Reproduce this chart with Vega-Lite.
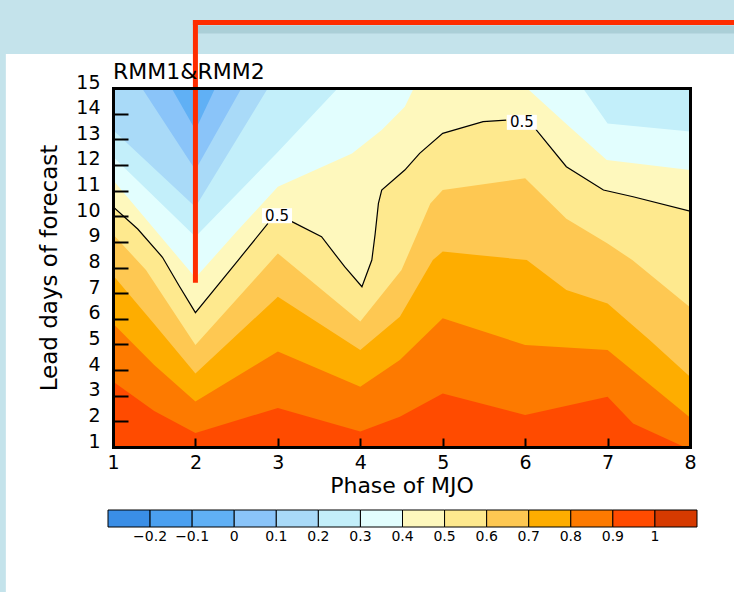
{
  "$schema": "https://vega.github.io/schema/vega-lite/v6.json",
  "width": 577,
  "height": 359,
  "autosize": {"type": "none"},
  "padding": {"left": 113, "top": 88, "right": 44, "bottom": 145},
  "background": "#C4E3EB",
  "title": {"text": "RMM1&RMM2", "anchor": "start", "frame": "group", "fontSize": 22, "fontWeight": "normal", "color": "black", "offset": 3, "dy": 68, "font": "DejaVu Sans"},
  "config": {
    "font": "DejaVu Sans",
    "view": {"stroke": null},
    "legend": {"labelFontSize": 14, "labelFont": "DejaVu Sans", "labelColor": "black"}
  },
  "resolve": {"axis": {"x": "independent", "y": "independent"}},
  "datasets": {
    "bands": [
      {"band": 0.95, "phase": 1, "lead": 1}, {"band": 0.95, "phase": 8, "lead": 1},
      {"band": 0.85, "phase": 1, "lead": 3.55}, {"band": 0.85, "phase": 1.5, "lead": 2.4}, {"band": 0.85, "phase": 2, "lead": 1.55}, {"band": 0.85, "phase": 3, "lead": 2.52}, {"band": 0.85, "phase": 4, "lead": 1.6}, {"band": 0.85, "phase": 4.48, "lead": 2.18}, {"band": 0.85, "phase": 5, "lead": 3.09}, {"band": 0.85, "phase": 6, "lead": 2.25}, {"band": 0.85, "phase": 7, "lead": 2.96}, {"band": 0.85, "phase": 7.31, "lead": 1.92}, {"band": 0.85, "phase": 8, "lead": 0.9},
      {"band": 0.75, "phase": 1, "lead": 5.82}, {"band": 0.75, "phase": 1.5, "lead": 4.2}, {"band": 0.75, "phase": 2, "lead": 2.77}, {"band": 0.75, "phase": 3, "lead": 4.72}, {"band": 0.75, "phase": 4, "lead": 3.35}, {"band": 0.75, "phase": 4.48, "lead": 4.39}, {"band": 0.75, "phase": 5, "lead": 6.02}, {"band": 0.75, "phase": 6, "lead": 4.98}, {"band": 0.75, "phase": 7, "lead": 4.78}, {"band": 0.75, "phase": 8, "lead": 2.15},
      {"band": 0.65, "phase": 1, "lead": 7.7}, {"band": 0.65, "phase": 1.5, "lead": 5.8}, {"band": 0.65, "phase": 2, "lead": 3.87}, {"band": 0.65, "phase": 3, "lead": 6.86}, {"band": 0.65, "phase": 4, "lead": 4.78}, {"band": 0.65, "phase": 4.48, "lead": 6.08}, {"band": 0.65, "phase": 4.88, "lead": 8.29}, {"band": 0.65, "phase": 5, "lead": 8.62}, {"band": 0.65, "phase": 6.02, "lead": 8.29}, {"band": 0.65, "phase": 6.5, "lead": 7.12}, {"band": 0.65, "phase": 7, "lead": 6.6}, {"band": 0.65, "phase": 7.51, "lead": 5.17}, {"band": 0.65, "phase": 8, "lead": 3.74},
      {"band": 0.55, "phase": 1, "lead": 9.3}, {"band": 0.55, "phase": 1.4, "lead": 7.9}, {"band": 0.55, "phase": 2, "lead": 4.98}, {"band": 0.55, "phase": 3, "lead": 8.55}, {"band": 0.55, "phase": 4, "lead": 5.89}, {"band": 0.55, "phase": 4.5, "lead": 7.9}, {"band": 0.55, "phase": 4.85, "lead": 10.5}, {"band": 0.55, "phase": 5, "lead": 11.02}, {"band": 0.55, "phase": 6, "lead": 11.48}, {"band": 0.55, "phase": 6.5, "lead": 9.9}, {"band": 0.55, "phase": 7, "lead": 8.94}, {"band": 0.55, "phase": 7.3, "lead": 8.29}, {"band": 0.55, "phase": 8, "lead": 6.45},
      {"band": 0.45, "phase": 1, "lead": 10.37}, {"band": 0.45, "phase": 1.3, "lead": 9.5}, {"band": 0.45, "phase": 1.6, "lead": 8.4}, {"band": 0.45, "phase": 1.8, "lead": 7.3}, {"band": 0.45, "phase": 2, "lead": 6.24}, {"band": 0.45, "phase": 2.52, "lead": 8.29}, {"band": 0.45, "phase": 2.88, "lead": 9.72}, {"band": 0.45, "phase": 3, "lead": 9.85}, {"band": 0.45, "phase": 3.17, "lead": 9.79}, {"band": 0.45, "phase": 3.53, "lead": 9.2}, {"band": 0.45, "phase": 3.81, "lead": 8.03}, {"band": 0.45, "phase": 4.02, "lead": 7.25}, {"band": 0.45, "phase": 4.14, "lead": 8.29}, {"band": 0.45, "phase": 4.18, "lead": 9.3}, {"band": 0.45, "phase": 4.22, "lead": 10.5}, {"band": 0.45, "phase": 4.26, "lead": 11.02}, {"band": 0.45, "phase": 4.54, "lead": 11.8}, {"band": 0.45, "phase": 4.72, "lead": 12.45}, {"band": 0.45, "phase": 5, "lead": 13.23}, {"band": 0.45, "phase": 5.49, "lead": 13.69}, {"band": 0.45, "phase": 5.78, "lead": 13.75}, {"band": 0.45, "phase": 5.95, "lead": 13.7}, {"band": 0.45, "phase": 6.1, "lead": 13.43}, {"band": 0.45, "phase": 6.5, "lead": 11.93}, {"band": 0.45, "phase": 6.95, "lead": 11.02}, {"band": 0.45, "phase": 7.31, "lead": 10.76}, {"band": 0.45, "phase": 8, "lead": 10.2},
      {"band": 0.35, "phase": 1, "lead": 11.41}, {"band": 0.35, "phase": 2, "lead": 7.6}, {"band": 0.35, "phase": 2.5, "lead": 9.4}, {"band": 0.35, "phase": 3, "lead": 11.15}, {"band": 0.35, "phase": 3.9, "lead": 12.45}, {"band": 0.35, "phase": 4.26, "lead": 13.36}, {"band": 0.35, "phase": 4.54, "lead": 14.27}, {"band": 0.35, "phase": 4.65, "lead": 15}, {"band": 0.35, "phase": 6.02, "lead": 15}, {"band": 0.35, "phase": 6.5, "lead": 13.6}, {"band": 0.35, "phase": 6.99, "lead": 12.19}, {"band": 0.35, "phase": 8, "lead": 11.8},
      {"band": 0.25, "phase": 1, "lead": 12.32}, {"band": 0.25, "phase": 2, "lead": 9.2}, {"band": 0.25, "phase": 3, "lead": 12.5}, {"band": 0.25, "phase": 3.73, "lead": 15}, {"band": 0.25, "phase": 6.7, "lead": 15}, {"band": 0.25, "phase": 7, "lead": 13.62}, {"band": 0.25, "phase": 8, "lead": 13.3},
      {"band": 0.15, "phase": 1, "lead": 13.36}, {"band": 0.15, "phase": 2, "lead": 10.36}, {"band": 0.15, "phase": 2.88, "lead": 15}, {"band": 0.15, "phase": 8, "lead": 15},
      {"band": 0.05, "phase": 1, "lead": 15}, {"band": 0.05, "phase": 1.35, "lead": 15}, {"band": 0.05, "phase": 2, "lead": 11.8}, {"band": 0.05, "phase": 2.56, "lead": 15}, {"band": 0.05, "phase": 8, "lead": 15},
      {"band": -0.05, "phase": 1, "lead": 15}, {"band": -0.05, "phase": 1.71, "lead": 15}, {"band": -0.05, "phase": 2, "lead": 13.36}, {"band": -0.05, "phase": 2.24, "lead": 15}, {"band": -0.05, "phase": 8, "lead": 15}
    ],
    "contour": [
      {"seg": "a", "phase": 1, "lead": 10.37}, {"seg": "a", "phase": 1.3, "lead": 9.5}, {"seg": "a", "phase": 1.6, "lead": 8.4}, {"seg": "a", "phase": 1.8, "lead": 7.3}, {"seg": "a", "phase": 2, "lead": 6.24}, {"seg": "a", "phase": 2.52, "lead": 8.29}, {"seg": "a", "phase": 2.88, "lead": 9.72},
      {"seg": "b", "phase": 3.17, "lead": 9.79}, {"seg": "b", "phase": 3.53, "lead": 9.2}, {"seg": "b", "phase": 3.81, "lead": 8.03}, {"seg": "b", "phase": 4.02, "lead": 7.25}, {"seg": "b", "phase": 4.14, "lead": 8.29}, {"seg": "b", "phase": 4.18, "lead": 9.3}, {"seg": "b", "phase": 4.22, "lead": 10.5}, {"seg": "b", "phase": 4.26, "lead": 11.02}, {"seg": "b", "phase": 4.54, "lead": 11.8}, {"seg": "b", "phase": 4.72, "lead": 12.45}, {"seg": "b", "phase": 5, "lead": 13.23}, {"seg": "b", "phase": 5.49, "lead": 13.69}, {"seg": "b", "phase": 5.77, "lead": 13.75},
      {"seg": "c", "phase": 6.12, "lead": 13.43}, {"seg": "c", "phase": 6.5, "lead": 11.93}, {"seg": "c", "phase": 6.95, "lead": 11.02}, {"seg": "c", "phase": 7.31, "lead": 10.76}, {"seg": "c", "phase": 8, "lead": 10.2}
    ],
    "labels": [
      {"phase": 2.99, "lead": 10.02, "text": "0.5"},
      {"phase": 5.96, "lead": 13.66, "text": "0.5"}
    ]
  },
  "layer": [
    {
      "data": {"values": [{}]},
      "mark": {"type": "rect", "fill": "white", "clip": false},
      "encoding": {
        "x": {"datum": -0.3, "type": "quantitative", "scale": {"domain": [1, 8], "nice": false, "zero": false}, "axis": null},
        "x2": {"datum": 9.6},
        "y": {"datum": 16.33, "type": "quantitative", "scale": {"domain": [1, 15], "nice": false, "zero": false}, "axis": null},
        "y2": {"datum": -9}
      }
    },
    {
      "data": {"name": "bands"},
      "mark": {"type": "area", "clip": true, "opacity": 1},
      "encoding": {
        "x": {"field": "phase", "type": "quantitative", "scale": {"domain": [1, 8], "nice": false, "zero": false},
          "axis": {"orient": "bottom", "values": [1, 2, 3, 4, 5, 6, 7, 8], "format": "d", "title": "Phase of MJO", "grid": false, "domain": true, "domainColor": "black", "domainWidth": 3, "domainCap": "square", "tickSize": -9, "tickWidth": 2, "tickColor": "black", "labelPadding": 15, "labelFontSize": 19, "labelFlush": false, "labelOverlap": false, "labelColor": "black", "labelFont": "DejaVu Sans", "titleFont": "DejaVu Sans", "titleFontSize": 22, "titleFontWeight": "normal", "titleColor": "black", "titlePadding": 3, "zindex": 1}},
        "y": {"field": "lead", "type": "quantitative", "stack": null, "scale": {"domain": [1, 15], "nice": false, "zero": false},
          "axis": {"orient": "left", "values": [1, 2, 3, 4, 5, 6, 7, 8, 9, 10, 11, 12, 13, 14, 15], "format": "d", "title": "Lead days of forecast", "grid": false, "domain": true, "domainColor": "black", "domainWidth": 3, "domainCap": "square", "tickSize": -15, "tickWidth": 2, "tickColor": "black", "labelPadding": 28, "labelOffset": -6, "labelFontSize": 19, "labelColor": "black", "labelFlush": false, "labelOverlap": false, "labelFont": "DejaVu Sans", "titleFont": "DejaVu Sans", "titleFontSize": 23, "titleFontWeight": "normal", "titleColor": "black", "titlePadding": 14, "zindex": 1}},
        "y2": {"datum": 15},
        "detail": {"field": "band", "type": "quantitative"},
        "color": {"field": "band", "type": "quantitative",
          "scale": {"type": "threshold", "domain": [-0.2, -0.1, 0, 0.1, 0.2, 0.3, 0.4, 0.5, 0.6, 0.7, 0.8, 0.9, 1],
            "range": ["#3A8EE6", "#4BA0F0", "#60B0F5", "#8AC4F9", "#A9DAF8", "#C3EFFA", "#E2FEFE", "#FEF8BD", "#FEE98E", "#FEC852", "#FEAD00", "#FD7A00", "#FF4B00", "#D63A00"]},
          "legend": {"type": "gradient", "orient": "none", "legendX": -5, "legendY": 422, "direction": "horizontal", "gradientLength": 589, "gradientThickness": 17, "title": null, "format": "~g", "labelFontSize": 14, "labelColor": "black", "labelFont": "DejaVu Sans", "labelOffset": 3, "labelOverlap": false, "gradientStrokeColor": "black", "gradientStrokeWidth": 1}}
      }
    },
    {
      "data": {"name": "contour"},
      "mark": {"type": "line", "color": "black", "strokeWidth": 1.2, "clip": true},
      "encoding": {
        "x": {"field": "phase", "type": "quantitative", "scale": {"domain": [1, 8], "nice": false, "zero": false},
          "axis": {"orient": "top", "title": null, "labels": false, "ticks": false, "grid": false, "domain": true, "domainColor": "black", "domainWidth": 3, "domainCap": "square", "zindex": 1}},
        "y": {"field": "lead", "type": "quantitative", "scale": {"domain": [1, 15], "nice": false, "zero": false},
          "axis": {"orient": "right", "title": null, "labels": false, "ticks": false, "grid": false, "domain": true, "domainColor": "black", "domainWidth": 3, "domainCap": "square", "zindex": 1}},
        "detail": {"field": "seg", "type": "nominal"}
      }
    },
    {
      "data": {"name": "labels"},
      "mark": {"type": "point", "shape": "M-1,-0.5H1V0.5H-1Z", "size": 900, "filled": true, "fill": "white", "strokeWidth": 0, "opacity": 1},
      "encoding": {
        "x": {"field": "phase", "type": "quantitative", "scale": {"domain": [1, 8], "nice": false, "zero": false}, "axis": null},
        "y": {"field": "lead", "type": "quantitative", "scale": {"domain": [1, 15], "nice": false, "zero": false}, "axis": null}
      }
    },
    {
      "data": {"name": "labels"},
      "mark": {"type": "text", "fontSize": 15, "color": "black", "align": "center", "baseline": "middle", "font": "DejaVu Sans"},
      "encoding": {
        "x": {"field": "phase", "type": "quantitative", "scale": {"domain": [1, 8], "nice": false, "zero": false}, "axis": null},
        "y": {"field": "lead", "type": "quantitative", "scale": {"domain": [1, 15], "nice": false, "zero": false}, "axis": null},
        "text": {"field": "text"}
      }
    },
    {
      "data": {"values": [{}]},
      "mark": {"type": "rule", "color": "#7FA9B3", "strokeWidth": 8, "opacity": 0.35, "yOffset": 7, "clip": false},
      "encoding": {
        "x": {"datum": 2.03, "type": "quantitative", "scale": {"domain": [1, 8], "nice": false, "zero": false}, "axis": null},
        "x2": {"datum": 8.7},
        "y": {"datum": 17.55, "type": "quantitative", "scale": {"domain": [1, 15], "nice": false, "zero": false}, "axis": null}
      }
    },
    {
      "data": {"values": [{}]},
      "mark": {"type": "rule", "color": "#FF2D00", "strokeWidth": 5, "strokeCap": "square", "clip": false},
      "encoding": {
        "x": {"datum": 2, "type": "quantitative", "scale": {"domain": [1, 8], "nice": false, "zero": false}, "axis": null},
        "y": {"datum": 7.5, "type": "quantitative", "scale": {"domain": [1, 15], "nice": false, "zero": false}, "axis": null},
        "y2": {"datum": 17.55}
      }
    },
    {
      "data": {"values": [{}]},
      "mark": {"type": "rule", "color": "#FF2D00", "strokeWidth": 5, "strokeCap": "square", "clip": false},
      "encoding": {
        "x": {"datum": 2, "type": "quantitative", "scale": {"domain": [1, 8], "nice": false, "zero": false}, "axis": null},
        "x2": {"datum": 8.7},
        "y": {"datum": 17.55, "type": "quantitative", "scale": {"domain": [1, 15], "nice": false, "zero": false}, "axis": null}
      }
    }
  ]
}
